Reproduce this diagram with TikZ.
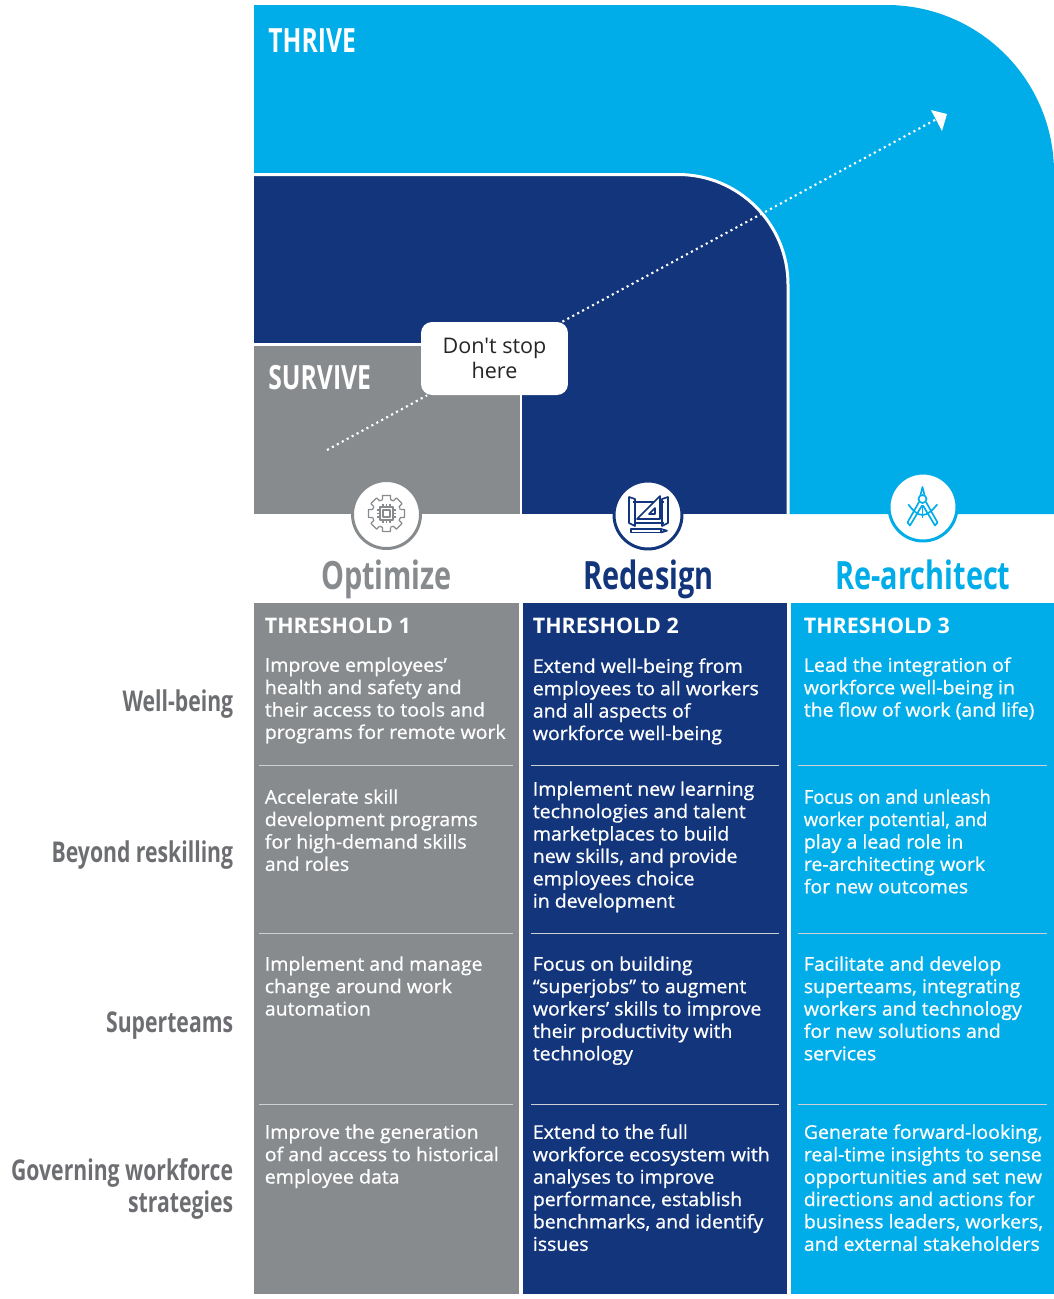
\documentclass[tikz,border=0pt]{standalone}
\usepackage{xcolor}
\usepackage{fontspec}
\setmainfont{Open Sans}
\newfontfamily\stopfamily{Open Sans}
\newfontfamily\cellfamily[FakeBold=0.8,FakeStretch=1.033]{Open Sans}
\newfontfamily\tightfamily[FakeBold=0.8,FakeStretch=0.975]{Open Sans}
\newfontfamily\headfamily[FakeStretch=0.74]{Open Sans}
\definecolor{thriveblue}{RGB}{0,173,233}
\definecolor{redesignnavy}{RGB}{18,53,124}
\definecolor{optimizegray}{RGB}{136,139,141}
\definecolor{labelgray}{RGB}{109,110,113}
\definecolor{rulelight}{RGB}{205,208,212}
\tikzset{
  celltext/.style={anchor=north west,inner sep=0pt,text=white,align=left,
    font=\fontsize{10.75pt}{12.75pt}\selectfont\cellfamily},
  thresholdtext/.style={anchor=base west,inner sep=0pt,text=white,
    font=\fontsize{12.2pt}{14pt}\selectfont\bfseries},
  zonetext/.style={anchor=base west,inner sep=0pt,text=white,
    font=\fontsize{19pt}{22pt}\selectfont\headfamily\bfseries},
  actiontext/.style={anchor=base,inner sep=0pt,
    font=\fontsize{22.2pt}{26pt}\selectfont\headfamily\bfseries},
  rowtext/.style={anchor=base east,inner sep=0pt,text=labelgray,align=right,
    font=\fontsize{16.3pt}{18pt}\selectfont\headfamily\bfseries},
  iconcircle/.style={circle,fill=white,line width=1.7pt,minimum size=1.36cm,inner sep=0pt},
  cellrule/.style={rulelight,line width=0.5pt},
}
\begin{document}
\begin{tikzpicture}[x=0.02cm,y=-0.02cm]
\useasboundingbox (0,0) rectangle (1054,1299);
% Zones
\fill[thriveblue] (254,514) -- (254,5) [rounded corners=3.35cm] -- (1054,5) [sharp corners] -- (1054,514) -- cycle;
\filldraw[fill=redesignnavy,draw=white,line width=1.7pt] (252.5,515.5) -- (252.5,174.5) [rounded corners=2.2cm] -- (788,174.5) [sharp corners] -- (788,515.5) -- cycle;
\filldraw[fill=optimizegray,draw=white,line width=1.7pt] (252.5,515.5) -- (252.5,344.5) -- (521,344.5) -- (521,515.5) -- cycle;
% Columns
\fill[optimizegray] (254,603) rectangle (519,1294);
\fill[redesignnavy] (523,603) rectangle (787,1294);
\fill[thriveblue] (791,603) rectangle (1054,1294);
% Rules
\draw[cellrule] (259,765) -- (513,765);
\draw[cellrule] (531,765) -- (779,765);
\draw[cellrule] (798,765) -- (1047,765);
\draw[cellrule] (259,933) -- (513,933);
\draw[cellrule] (531,933) -- (779,933);
\draw[cellrule] (798,933) -- (1047,933);
\draw[cellrule] (259,1104) -- (513,1104);
\draw[cellrule] (531,1104) -- (779,1104);
\draw[cellrule] (798,1104) -- (1047,1104);
% Zone names
\node[zonetext] (thrive) at (268,52) {THRIVE};
\node[zonetext] (survive) at (268,389) {SURVIVE};
% Path
\node[fill=white,rounded corners=0.22cm,minimum width=2.94cm,minimum height=1.46cm,inner sep=0pt,align=center,text=black!85,
  font=\fontsize{12.25pt}{14.2pt}\selectfont\stopfamily] (stop) at (494.5,358.5) {Don't stop\\here};
\coordinate (pathstart) at (327,450);
\coordinate (pathend) at (946,114);
\draw[white,line width=1.2pt,dotted] (pathstart) -- (stop);
\draw[white,line width=1.2pt,dotted] (stop) -- (pathend);
\fill[white] (947,114) -- (931,110) -- (942,131) -- cycle;
% Icons
\node[iconcircle,draw=optimizegray] (optimizeicon) at (386.5,514.5) {};
\node[iconcircle,draw=redesignnavy] (redesignicon) at (648,515) {};
\node[iconcircle,draw=thriveblue] (rearchitecticon) at (923,507) {};
% Gear
\begin{scope}[shift={(386.5,513.5)},optimizegray,line width=0.7pt,line join=round]
\foreach \a in {0,45,...,315}
  \draw[rotate=\a] (-4,-14) -- (-4,-18) -- (4,-18) -- (4,-14) -- (7,-12.5);
\draw[line width=0.9pt] (-6.5,-6.5) rectangle (6.5,6.5);
\draw (-3.5,-3.5) rectangle (3.5,3.5);
\foreach \a in {0,90,180,270}
  \draw[rotate=\a] (-3.5,-6.5) -- (-3.5,-9.5) (0,-6.5) -- (0,-9.5) (3.5,-6.5) -- (3.5,-9.5);
\end{scope}
% Blueprint
\begin{scope}[redesignnavy,line width=0.95pt,line join=round]
\draw (633,502) -- (664,502);
\draw (634,523) -- (664,523);
\draw (629,497) -- (629,523) -- (635,526) -- (635,499) -- cycle;
\draw (668,497) -- (668,523) -- (662,526) -- (662,499) -- cycle;
\draw[fill=white] (637,519) -- (660,496) -- (660,519) -- cycle;
\draw (649,514) -- (655,508) -- (655,514) -- cycle;
\draw (631,529) rectangle (661,532.5);
\draw (661,529) -- (667,530.7) -- (661,532.5);
\end{scope}
% Compass
\begin{scope}[thriveblue,line width=0.95pt,line join=round]
\draw (922.5,499) circle[radius=4];
\draw (920.5,495) -- (922.5,487) -- (924.5,495);
\draw (919,502) -- (907.5,522.5) -- (910,525.5) -- (922,505.5);
\draw (926,502) -- (937.5,522.5) -- (935,525.5) -- (923,505.5);
\draw (908.3,504.3) .. controls (913,511) and (918,515) .. (922.5,515) .. controls (927,515) and (932,511) .. (937.3,504.3);
\draw (922.5,505) -- (922.5,518);
\end{scope}
% Actions
\node[actiontext,text=optimizegray] (optimize) at (386.5,589) {Optimize};
\node[actiontext,text=redesignnavy] (redesign) at (648.5,589) {Redesign};
\node[actiontext,text=thriveblue] (rearchitect) at (923,589) {Re-architect};
% Thresholds
\node[thresholdtext] (threshold1) at (264.5,633) {THRESHOLD 1};
\node[thresholdtext] (threshold2) at (532.5,633) {THRESHOLD 2};
\node[thresholdtext] (threshold3) at (803.5,633) {THRESHOLD 3};
% Row names
\node[rowtext] (wellbeing) at (233.5,711.5) {Well-being};
\node[rowtext] (reskilling) at (233.5,862.5) {Beyond reskilling};
\node[rowtext] (superteams) at (233.5,1032.5) {Superteams};
\node[rowtext] (governing) at (233.5,1212.5) {Governing workforce\\strategies};
% Optimize cells
\node[celltext] (optimizea) at (264.5,657) {Improve employees’\\health and safety and\\their access to tools and\\programs for remote work};
\node[celltext] (optimizeb) at (264.5,789) {Accelerate skill\\development programs\\for high-demand skills\\and roles};
\node[celltext] (optimizec) at (264.5,956) {Implement and manage\\change around work\\automation};
\node[celltext] (optimized) at (264.5,1124) {Improve the generation\\of and access to historical\\employee data};
% Redesign cells
\node[celltext] (redesigna) at (532.5,658) {Extend well-being from\\employees to all workers\\and all aspects of\\workforce well-being};
\node[celltext] (redesignb) at (532.5,781) {Implement new learning\\technologies and talent\\marketplaces to build\\new skills, and provide\\employees choice\\in development};
\node[celltext] (redesignc) at (532.5,956) {Focus on building\\“superjobs” to augment\\workers’ skills to improve\\their productivity with\\technology};
\node[celltext] (redesignd) at (532.5,1124) {Extend to the full\\workforce ecosystem with\\analyses to improve\\performance, establish\\benchmarks, and identify\\issues};
% Re-architect cells
\node[celltext] (rearchitecta) at (803.5,657) {Lead the integration of\\workforce well-being in\\the flow of work (and life)};
\node[celltext] (rearchitectb) at (803.5,789) {{\tightfamily Focus on and unleash}\\{\tightfamily worker potential, and}\\play a lead role in\\re-architecting work\\for new outcomes};
\node[celltext] (rearchitectc) at (803.5,956) {Facilitate and develop\\superteams, integrating\\workers and technology\\for new solutions and\\services};
\node[celltext] (rearchitectd) at (803.5,1124) {Generate forward-looking,\\real-time insights to sense\\opportunities and set new\\directions and actions for\\business leaders, workers,\\and external stakeholders};
\end{tikzpicture}
\end{document}
